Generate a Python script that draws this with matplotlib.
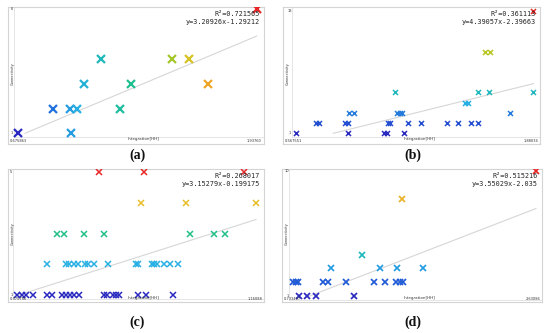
import numpy as np
import matplotlib
matplotlib.use("Agg")
import matplotlib.pyplot as plt
from matplotlib.colors import LinearSegmentedColormap

# ---------------- data ----------------
# panel (a)
a_x = [0.676, 0.864, 0.952, 0.991, 0.956, 1.028, 1.114, 1.216, 1.274, 1.489, 1.580, 1.683, 1.938]
a_y = [1, 2, 2, 2, 1, 3, 4, 2, 3, 4, 4, 3, 6]
# panel (b)
b_x = [0.568, 0.857, 1.056, 1.071, 1.165,
       0.676, 0.697, 0.837, 0.855, 1.077, 1.088, 1.189, 1.259, 1.401, 1.466, 1.536, 1.576,
       0.861, 0.888, 1.126, 1.141, 1.156, 1.751,
       1.501, 1.521,
       1.115, 1.576, 1.637, 1.880,
       1.615, 1.639,
       1.877]
b_y = [1, 1, 1, 1, 1,
       2, 2, 2, 2, 2, 2, 2, 2, 2, 2, 2, 2,
       3, 3, 3, 3, 3, 3,
       4, 4,
       5, 5, 5, 5,
       9, 9,
       13]
# panel (c)
c_x = [0.376, 0.392, 0.405, 0.426, 0.473, 0.491, 0.523, 0.537, 0.549, 0.562, 0.578,
       0.661, 0.672, 0.692, 0.700, 0.709, 0.772, 0.799, 0.889,
       0.472, 0.535, 0.547, 0.562, 0.575, 0.597, 0.609, 0.629, 0.673, 0.766, 0.774,
       0.818, 0.826, 0.836, 0.857, 0.878, 0.904,
       0.506, 0.529, 0.596, 0.661, 0.945, 1.023, 1.059,
       0.781, 0.931, 1.161,
       0.644, 0.792, 1.123]
c_y = [1] * 19 + [2] * 17 + [3] * 7 + [4] * 3 + [5] * 3
# panel (d)
d_x = [0.780, 0.843, 0.908, 1.205,
       0.733, 0.752, 0.767, 0.963, 1.002, 1.145, 1.367, 1.450, 1.534, 1.567, 1.594,
       1.028, 1.408, 1.542, 1.750,
       1.268,
       1.586,
       2.631]
d_y = [1] * 4 + [2] * 11 + [3] * 4 + [4] + [8] + [10]

x_min_labels = ["0.675863", "0.567551", "0.375756", "0.733497"]
x_max_labels = ["1.93760", "1.88034", "1.16088", "2.63086"]
x_min_vals = [0.675863, 0.567551, 0.375756, 0.733497]
x_max_vals = [1.93760, 1.88034, 1.16088, 2.63086]
y_min_vals = [1, 1, 1, 1]
y_max_vals = [6, 13, 5, 10]
r2_labels = ["0.721565", "0.361113", "0.268017", "0.515216"]
slopes = [3.20926, 4.39057, 3.15279, 3.55029]
intercepts = [-1.29212, -2.39663, -0.199175, -2.035]
captions = ["(a)", "(b)", "(c)", "(d)"]
color_by = ["x", "y", "y", "y"]

xs = [a_x, b_x, c_x, d_x]
ys = [a_y, b_y, c_y, d_y]

# ---------------- layout (pixels) ----------------
W, H = 550, 333
# frame: left, top, right, bottom
frames = [(8, 7, 264, 144), (283, 7, 540, 144), (8, 169, 264, 302), (282, 169, 542, 302)]
# pixel positions of xmin, xmax, ymin, ymax
data_px = [(17.7, 256.7, 133.3, 9.5),
           (296.0, 533.3, 133.3, 10.7),
           (17.3, 256.0, 295.0, 172.3),
           (293.3, 536.0, 296.3, 171.0)]
marker_sz = [(5.2, 1.6), (3.6, 1.1), (3.7, 1.1), (4.0, 1.25)]
caption_px = [(137, 155), (413, 155), (137, 322), (413, 322)]

cmap = LinearSegmentedColormap.from_list("dm", [
    (0.00, "#2a2ac0"), (0.12, "#2060d8"), (0.25, "#28b0e4"), (0.35, "#20b8b8"),
    (0.50, "#20c088"), (0.66, "#b4c820"), (0.75, "#e8c028"), (0.86, "#f08a2c"),
    (1.00, "#e82828")])

fig = plt.figure(figsize=(W / 100, H / 100), dpi=100)
fig.patch.set_facecolor("white")

def fx(px):
    return px / W

def fy(py):
    return 1 - py / H

mono = "DejaVu Sans Mono"
tiny = 2.6

for i in range(4):
    l, t, r, b = frames[i]
    ax = fig.add_axes([fx(l), fy(b), (r - l) / W, (b - t) / H])
    px0, px1, pyb, pyt = data_px[i]
    x0, x1 = x_min_vals[i], x_max_vals[i]
    y0, y1 = y_min_vals[i], y_max_vals[i]
    sx = (x1 - x0) / (px1 - px0)
    sy = (y1 - y0) / (pyb - pyt)
    ax.set_xlim(x0 - (px0 - l) * sx, x1 + (r - px1) * sx)
    ax.set_ylim(y0 - (b - pyb) * sy, y1 + (pyt - t) * sy)
    ax.set_xticks([])
    ax.set_yticks([])
    for s in ax.spines.values():
        s.set_color("#d4d4d4")
        s.set_linewidth(0.8)

    # inner axis lines
    ax.plot([x0 - 4 * sx, x0 - 4 * sx], [y0 - 4 * sy, y1 + (pyt - t) * sy],
            color="#e0e0e0", lw=0.6, zorder=1)
    ax.plot([x0 - 4 * sx, x1 + (r - px1) * sx], [y0 - 4 * sy, y0 - 4 * sy],
            color="#e0e0e0", lw=0.6, zorder=1)

    # regression line, limited to data range
    m, c0 = slopes[i], intercepts[i]
    xs_start = max(x0, (y0 - c0) / m)
    xl = np.array([xs_start, x1])
    ax.plot(xl, m * xl + c0, color="#d6d6d6", lw=0.8, zorder=2)

    xv = np.array(xs[i])
    yv = np.array(ys[i])
    if color_by[i] == "x":
        cv = (xv - x0) / (x1 - x0)
    else:
        cv = (yv - y0) / (y1 - y0)
    ms, mew = marker_sz[i]
    for xx, yy, cc in zip(xv, yv, cv):
        ax.plot(xx, yy, marker="x", ms=ms, mew=mew, color=cmap(np.clip(cc, 0, 1)),
                linestyle="none", zorder=3)

    # texts
    fig.text(fx(r - 4), fy(t + 7), "R²=" + r2_labels[i], ha="right", va="center",
             fontsize=4.9, family=mono, color="#222222")
    sign = "-" if c0 < 0 else "+"
    eq = "y=%sx%s%s" % (f"{m:g}", sign, f"{abs(c0):g}")
    fig.text(fx(r - 4), fy(t + 15), eq, ha="right", va="center",
             fontsize=4.9, family=mono, color="#222222")
    fig.text(fx(l + 4.5), fy((t + b) / 2 - 2), "Connectivity", rotation=90,
             ha="center", va="center", fontsize=tiny, color="#333333")
    fig.text(fx((l + r) / 2 + 8), fy(b - 4.5), "Integration[HH]", ha="center",
             va="center", fontsize=tiny + 0.3, color="#333333")
    fig.text(fx(l + 2), fy(b - 2.5), x_min_labels[i], ha="left", va="center",
             fontsize=tiny, color="#333333")
    fig.text(fx(r - 2), fy(b - 2.5), x_max_labels[i], ha="right", va="center",
             fontsize=tiny, color="#333333")
    fig.text(fx(px0 - 6), fy(pyb), str(y0), ha="center", va="center",
             fontsize=tiny, color="#333333")
    fig.text(fx(px0 - 6), fy(pyt), str(y1), ha="center", va="center",
             fontsize=tiny, color="#333333")

    cx, cy = caption_px[i]
    fig.text(fx(cx), fy(cy), captions[i], ha="center", va="center", fontsize=10,
             family="Liberation Serif", fontweight="bold", color="#111111")

fig.savefig("out.png", dpi=100, facecolor="white")
